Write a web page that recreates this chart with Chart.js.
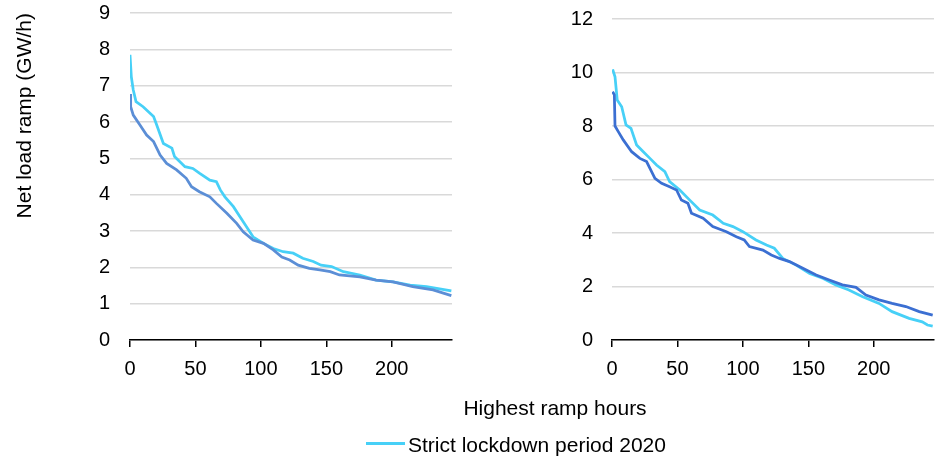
<!DOCTYPE html>
<html>
<head>
<meta charset="utf-8">
<script src="https://cdn.jsdelivr.net/npm/chart.js@4.4.0/dist/chart.umd.min.js"></script>
<style>
  html, body { margin: 0; padding: 0; background: #fff; }
  #page { position: relative; width: 943px; height: 456px; overflow: hidden;
          font-family: 'Liberation Sans', Arial, sans-serif; color: #000; }
  canvas { position: absolute; top: 0; }
  #leftChart { left: 0; }
  #rightChart { left: 472px; }
  #xTitle { position: absolute; top: 397px; left: 555px; transform: translateX(-50%);
            font-size: 21px; line-height: 21px; white-space: nowrap; }
  #legendLine { position: absolute; left: 366px; top: 442px; width: 39px; height: 3px; background: #47D0F7; }
  #legendText { position: absolute; left: 408px; top: 434px; font-size: 21px; line-height: 21px; white-space: nowrap; }
</style>
</head>
<body>
<div id="page">
  <canvas id="leftChart" width="470" height="400"></canvas>
  <canvas id="rightChart" width="471" height="400"></canvas>
  <div id="xTitle">Highest ramp hours</div>
  <div id="legendLine"></div>
  <div id="legendText">Strict lockdown period 2020</div>
</div>
<script>
// Ranked ramp curves (hour rank -> GW/h), two regions
const leftLockdownHours = [0, 1, 2.5, 4.6, 10, 18, 20, 25.5, 32, 34, 42, 48, 53, 61, 66, 69, 72.5, 79, 84, 89, 94, 102, 109.5, 117, 124.7, 132, 140, 146, 154, 163, 175.6, 188, 201, 214, 226.5, 245.5];
const leftLockdownRamp  = [7.85, 7.25, 6.88, 6.56, 6.42, 6.15, 5.96, 5.41, 5.28, 5.05, 4.77, 4.72, 4.59, 4.40, 4.36, 4.13, 3.94, 3.67, 3.39, 3.12, 2.84, 2.66, 2.52, 2.43, 2.39, 2.25, 2.16, 2.06, 2.02, 1.88, 1.79, 1.65, 1.60, 1.51, 1.47, 1.35];

const leftCompareHours = [0, 0.5, 2.5, 7.6, 12.7, 18, 23, 28, 35.6, 43, 47, 53, 61, 66, 74, 81.5, 86.5, 94, 102, 109.5, 116, 122, 128.5, 137, 145, 153, 160, 175.6, 188, 201, 216, 231.5, 245.5];
const leftCompareRamp  = [6.77, 6.42, 6.19, 5.92, 5.64, 5.46, 5.09, 4.86, 4.68, 4.45, 4.22, 4.08, 3.94, 3.76, 3.49, 3.21, 2.98, 2.75, 2.66, 2.48, 2.28, 2.20, 2.06, 1.97, 1.93, 1.88, 1.79, 1.74, 1.65, 1.60, 1.47, 1.38, 1.22];

const rightLockdownHours = [0.5, 2.3, 4, 7.4, 10.7, 14.5, 18.8, 23.9, 29, 34, 40.4, 44, 51.8, 59.4, 67, 77, 85, 92.4, 100, 110, 118, 124, 130.5, 140.7, 151, 161, 171, 181, 191.5, 204, 214, 227, 237, 241, 245];
const rightLockdownRamp  = [10.12, 9.84, 8.97, 8.72, 8.04, 7.91, 7.29, 7.04, 6.79, 6.54, 6.29, 5.92, 5.61, 5.23, 4.86, 4.67, 4.36, 4.24, 4.05, 3.74, 3.55, 3.43, 3.05, 2.80, 2.49, 2.31, 2.06, 1.87, 1.62, 1.37, 1.06, 0.81, 0.68, 0.56, 0.52];

const rightCompareHours = [0.5, 1.8, 2.3, 4.8, 8.6, 15, 21.3, 26.4, 29, 32.8, 37.9, 44, 49.3, 53, 58, 60.7, 69.6, 77, 87.4, 95, 101, 105, 115.3, 121.7, 128, 135.6, 145.8, 156, 166, 176, 186.4, 194, 204, 214, 224.5, 234.7, 245];
const rightCompareRamp  = [9.28, 9.16, 8.0, 7.79, 7.48, 7.04, 6.79, 6.67, 6.42, 6.04, 5.86, 5.73, 5.61, 5.23, 5.11, 4.74, 4.55, 4.24, 4.05, 3.86, 3.74, 3.49, 3.36, 3.18, 3.05, 2.93, 2.68, 2.43, 2.24, 2.06, 1.97, 1.68, 1.50, 1.37, 1.25, 1.06, 0.93];

const xTicks = [0, 50, 100, 150, 200];

const colors = {
    lockdown: '#47D0F7',
    leftCompare: '#5B8ED6',
    rightCompare: '#3B6FD2',
    grid: '#D9D9D9',
    axis: '#000000'
};

function toPoints(hours, values) {
    return hours.map((h, i) => ({ x: h, y: values[i] }));
}

function lineSet(label, hours, values, color) {
    return {
        label: label,
        data: toPoints(hours, values),
        borderColor: color,
        backgroundColor: color,
        borderWidth: 2.75,
        pointRadius: 0,
        tension: 0,
        fill: false
    };
}

function makePanel(canvasId, cfg) {
    const ctx = document.getElementById(canvasId).getContext('2d');
    return new Chart(ctx, {
        type: 'line',
        data: {
            datasets: [
                lineSet('Comparison period', cfg.compareHours, cfg.compareRamp, cfg.compareColor),
                lineSet('Strict lockdown period 2020', cfg.lockHours, cfg.lockRamp, colors.lockdown)
            ]
        },
        options: {
            responsive: false,
            animation: false,
            layout: { padding: { top: cfg.padTop, right: cfg.padRight, bottom: 0, left: 0 } },
            plugins: { legend: { display: false }, tooltip: { enabled: false } },
            scales: {
                x: {
                    type: 'linear',
                    min: 0,
                    max: 246,
                    afterFit: s => { s.height = 60; s.paddingLeft = 0; s.paddingRight = 0; },
                    afterBuildTicks: s => { s.ticks = xTicks.map(v => ({ value: v })); },
                    grid: { drawOnChartArea: false, drawTicks: true, tickLength: 7, color: colors.axis, lineWidth: 1.5 },
                    border: { display: true, color: colors.axis, width: 1.5 },
                    ticks: { color: '#000', font: { size: 20, family: "'Liberation Sans', Arial, sans-serif" }, padding: 10, maxRotation: 0 }
                },
                y: {
                    min: 0,
                    max: cfg.yMax,
                    // fixed axis width, and no extra room reserved for the end labels
                    afterFit: s => { s.width = cfg.yWidth; s.paddingTop = 0; s.paddingBottom = 0; },
                    grid: { color: colors.grid, lineWidth: 1.5, drawTicks: false },
                    border: { display: false },
                    ticks: { stepSize: cfg.yStep, color: '#000', padding: cfg.tickPad,
                             font: { size: 20, family: "'Liberation Sans', Arial, sans-serif" } },
                    title: {
                        display: !!cfg.yTitle,
                        text: cfg.yTitle || '',
                        align: 'end',
                        color: '#000',
                        padding: { top: 13, bottom: 0 },
                        font: { size: 21, family: "'Liberation Sans', Arial, sans-serif" }
                    }
                }
            }
        }
    });
}

makePanel('leftChart', {
    lockHours: leftLockdownHours, lockRamp: leftLockdownRamp,
    compareHours: leftCompareHours, compareRamp: leftCompareRamp,
    compareColor: colors.leftCompare,
    yMax: 9, yStep: 1, yWidth: 130, tickPad: 20,
    padTop: 13, padRight: 18,
    yTitle: 'Net load ramp (GW/h)'
});

makePanel('rightChart', {
    lockHours: rightLockdownHours, lockRamp: rightLockdownRamp,
    compareHours: rightCompareHours, compareRamp: rightCompareRamp,
    compareColor: colors.rightCompare,
    yMax: 12, yStep: 2, yWidth: 140, tickPad: 19,
    padTop: 19, padRight: 9,
    yTitle: null
});
</script>
</body>
</html>
